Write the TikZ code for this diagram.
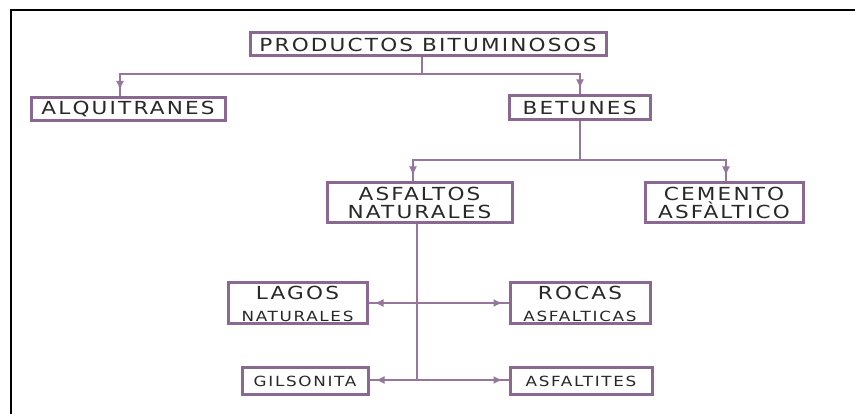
\documentclass[tikz,border=0pt]{standalone}
\usepackage{fontspec}
\usetikzlibrary{arrows.meta}
\newfontfamily\cadfont[LetterSpace=12,FakeStretch=1.2]{DejaVu Sans}
\definecolor{boxc}{RGB}{138,104,146}
\definecolor{linec}{RGB}{150,118,156}
\definecolor{txtc}{RGB}{40,40,40}
\newcommand{\bigt}{\cadfont\fontsize{18}{18}\selectfont}
\newcommand{\smallt}{\cadfont\fontsize{14}{16}\selectfont}
\tikzset{
  box/.style={draw=boxc, line width=3pt, fill=white, text=txtc, inner sep=0pt, align=center, font=\bigt},
  conn/.style={draw=linec, line width=1.8pt},
  arr/.style={conn, shorten >=6pt, -{Latex[length=9pt,width=8pt]}},
}
\begin{document}
\begin{tikzpicture}[x=1pt,y=-1pt]
\useasboundingbox (0,0) rectangle (855,414);
\fill[white] (0,0) rectangle (855,414);
\draw[black, line width=2pt] (11,414) -- (11,10) -- (855,10);

\node[box, minimum width=356pt, minimum height=23pt] (pb) at (428,44.5) {PRODUCTOS BITUMINOSOS};
\node[box, minimum width=194pt, minimum height=23pt] (alq) at (128,109) {ALQUITRANES};
\node[box, minimum width=141pt, minimum height=24pt] (bet) at (579.5,108) {BETUNES};
\node[box, minimum width=185pt, minimum height=40pt] (asf) at (419.5,203) {ASFALTOS\\NATURALES};
\node[box, minimum width=158pt, minimum height=40pt] (cem) at (724,203) {CEMENTO\\ASFÀLTICO};
\node[box, minimum width=139pt, minimum height=41pt] (lag) at (297.5,303.5) {LAGOS\\[4pt]{\smallt NATURALES}};
\node[box, minimum width=140pt, minimum height=41pt] (roc) at (580,303.5) {ROCAS\\[4pt]{\smallt ASFALTICAS}};
\node[box, minimum width=126pt, minimum height=26pt, font=\smallt] (gil) at (305,381) {GILSONITA};
\node[box, minimum width=142pt, minimum height=26pt, font=\smallt] (asft) at (581,381) {ASFALTITES};

\coordinate (j1) at (422,74);
\coordinate (j2) at (580,160);
\coordinate (j3a) at (417,303);
\coordinate (j3b) at (417,380);

\draw[conn] (pb.south -| j1) -- (j1);
\draw[conn] (j1) -| ([xshift=-8pt]alq.north);
\draw[arr] (j1) -| ([xshift=-8pt]alq.north);
\draw[conn] (j1) -| (bet.north -| j2);
\draw[arr] (j1) -| (bet.north -| j2);

\draw[conn] (bet.south -| j2) -- (j2);
\draw[conn] (j2) -| ([xshift=-6.5pt]asf.north);
\draw[arr] (j2) -| ([xshift=-6.5pt]asf.north);
\draw[conn] (j2) -| ([xshift=2pt]cem.north);
\draw[arr] (j2) -| ([xshift=2pt]cem.north);

\draw[conn] ([xshift=-2.5pt]asf.south) -- (j3b);
\draw[conn] (j3a) -- (lag.east |- j3a);
\draw[arr] (j3a) -- (lag.east |- j3a);
\draw[conn] (j3a) -- (roc.west |- j3a);
\draw[arr] (j3a) -- (roc.west |- j3a);
\draw[conn] (j3b) -- (gil.east |- j3b);
\draw[arr] (j3b) -- (gil.east |- j3b);
\draw[conn] (j3b) -- (asft.west |- j3b);
\draw[arr] (j3b) -- (asft.west |- j3b);
\end{tikzpicture}
\end{document}
